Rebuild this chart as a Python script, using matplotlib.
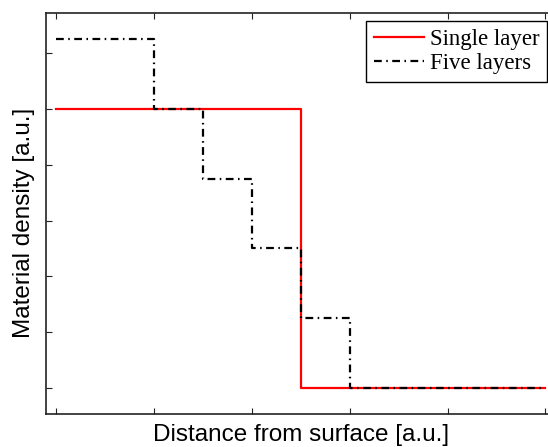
import matplotlib
matplotlib.use('Agg')
import matplotlib.pyplot as plt

# single layer profile
single_edges = [0, 2.5, 5]
single_levels = [5, 0]

# five layers profile
five_edges = [0, 1, 1.5, 2, 2.5, 3, 5]
five_levels = [6.25, 5, 3.75, 2.5, 1.25, 0]

xticks = [0, 1, 2, 3, 4, 5]
yticks = [0, 1, 2, 3, 4, 5, 6]

W, H = 548, 447
fig = plt.figure(figsize=(W / 100, H / 100), dpi=100)
ax = fig.add_axes([46 / W, (H - 414) / H, (W - 46) / W, 401 / H])

ax.plot(single_edges, single_levels + [single_levels[-1]], drawstyle='steps-post',
        color='red', lw=1.6, label='Single layer')
ax.plot(five_edges, five_levels + [five_levels[-1]], drawstyle='steps-post',
        color='black', lw=1.6, dashes=(3.5, 2, 0.7, 2), label='Five layers')

ax.set_xlim(-0.107, 5.026)
ax.set_ylim(-0.466, 6.717)
ax.set_xticks(xticks)
ax.set_yticks(yticks)
ax.set_xticklabels([])
ax.set_yticklabels([])
ax.tick_params(direction='in', length=4, width=0.8, top=True, right=False, colors='#222222')
for s in ['left', 'bottom', 'top']:
    ax.spines[s].set_linewidth(1.2)
    ax.spines[s].set_color('#222222')
ax.spines['right'].set_visible(False)

# axis labels placed as figure text (matlab-like positions)
fig.text(301.5 / W, 1 - 441 / H, 'Distance from surface [a.u.]', fontsize=17.5,
         family='Liberation Sans', ha='center', va='baseline')
fig.text(30 / W, 1 - 222.5 / H, 'Material density [a.u.]', fontsize=17.5,
         family='Liberation Sans', ha='center', va='baseline', rotation=90,
         rotation_mode='anchor')

leg = fig.legend(loc='upper right', bbox_to_anchor=(547 / W, 1 - 21 / H), borderaxespad=0,
                 prop={'family': 'Liberation Serif', 'size': 16.5}, fancybox=False,
                 edgecolor='black', framealpha=1, handlelength=2.2, labelspacing=0.15,
                 borderpad=0.33, handletextpad=0.25)
leg.get_frame().set_linewidth(1.0)

fig.savefig('out.png', dpi=100)
